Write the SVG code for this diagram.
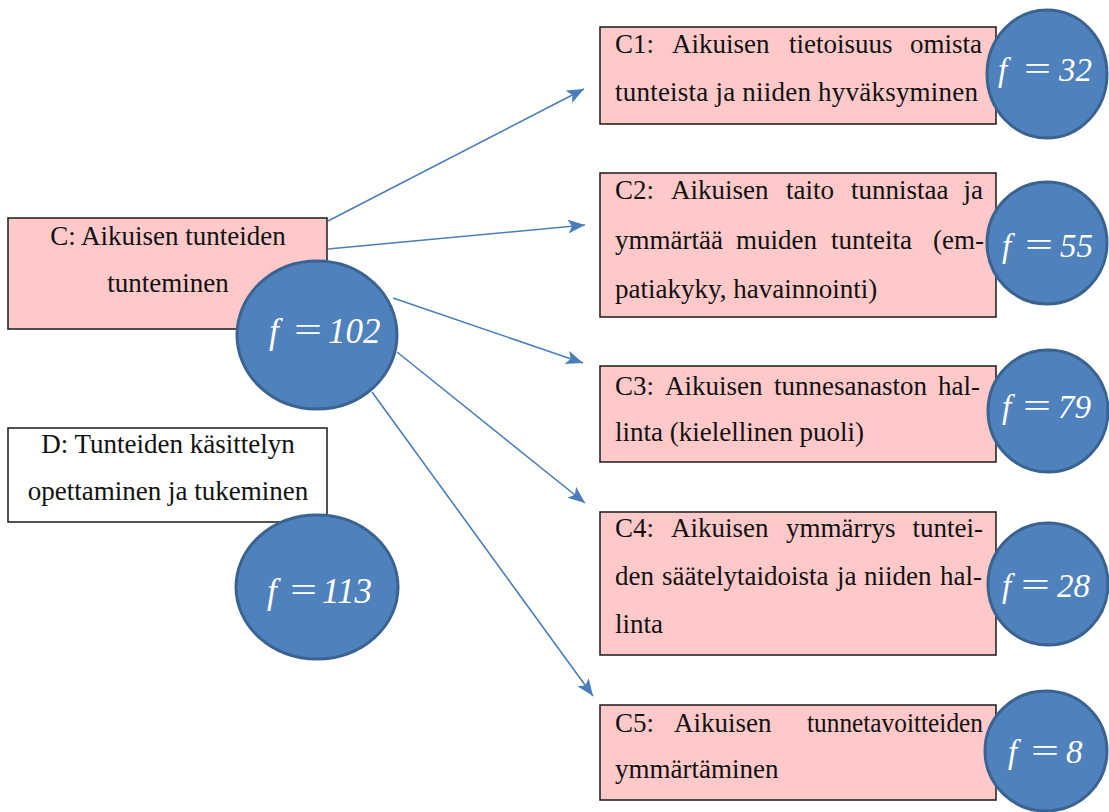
<svg xmlns="http://www.w3.org/2000/svg" width="1109" height="812" viewBox="0 0 1109 812">
<defs>
<style>
.box{fill:#ffc9c9;stroke:#1a1a1a;stroke-width:1.5}
.wbox{fill:#ffffff;stroke:#1a1a1a;stroke-width:1.5}
.t{font-family:"Liberation Serif","Times New Roman",serif;font-size:27px;fill:#111}
.tc{font-family:"Liberation Serif","Times New Roman",serif;font-size:27px;fill:#111;text-anchor:middle}
.e{text-anchor:end}
.circ{fill:#4f81bd;stroke:#3a6391;stroke-width:3}
.f{font-family:"Liberation Serif","Times New Roman",serif;font-style:italic;fill:#ffffff}
.eq{font-family:"Liberation Serif","Times New Roman",serif;fill:#ffffff}
.conn{stroke:#4a7ebb;stroke-width:1.6;fill:none;marker-end:url(#ah)}
</style>
<marker id="ah" markerUnits="userSpaceOnUse" markerWidth="20" markerHeight="16" refX="17" refY="7" orient="auto">
<path d="M0,0 L17,7 L0,14 L4,7 Z" fill="#4a7ebb"/>
</marker>
</defs>
<rect width="1109" height="812" fill="#ffffff"/>

<g id="connectors">
<line class="conn" x1="328" y1="221" x2="584" y2="89"/>
<line class="conn" x1="328" y1="249" x2="585" y2="225"/>
<line class="conn" x1="393" y1="298" x2="583" y2="363"/>
<line class="conn" x1="397" y1="352" x2="585" y2="503"/>
<line class="conn" x1="372" y1="392" x2="593" y2="696"/>
</g>

<g id="nodeC">
<rect class="box" x="8" y="218" width="319" height="111"/>
<text class="tc" x="168" y="245">C: Aikuisen tunteiden</text>
<text class="tc" x="168" y="292">tunteminen</text>
<ellipse class="circ" cx="317" cy="335" rx="80" ry="74"/>
<text class="f" x="269" y="343" font-size="35">f</text>
<text class="eq" x="294" y="342" font-size="35" textLength="28" lengthAdjust="spacingAndGlyphs">=</text>
<text class="f" x="328" y="343" font-size="35">102</text>
</g>

<g id="nodeD">
<rect class="wbox" x="8" y="428" width="319" height="94"/>
<text class="tc" x="168" y="453">D: Tunteiden käsittelyn</text>
<text class="tc" x="168" y="500">opettaminen ja tukeminen</text>
<ellipse class="circ" cx="317" cy="587" rx="81" ry="72"/>
<text class="f" x="267" y="603" font-size="35">f</text>
<text class="eq" x="290" y="602" font-size="35" textLength="27" lengthAdjust="spacingAndGlyphs">=</text>
<text class="f" x="322" y="603" font-size="35">113</text>
</g>

<g id="nodeC1">
<rect class="box" x="600" y="27" width="396" height="97"/>
<text class="t" x="615" y="53">C1:</text>
<text class="t" x="672" y="53">Aikuisen</text>
<text class="t" x="789" y="53">tietoisuus</text>
<text class="t e" x="982" y="53">omista</text>
<text class="t" x="615" y="101" textLength="363" lengthAdjust="spacing">tunteista ja niiden hyväksyminen</text>
<ellipse class="circ" cx="1047" cy="74" rx="60" ry="64"/>
<text class="f" x="998" y="81" font-size="33">f</text>
<text class="eq" x="1024" y="80" font-size="33" textLength="27" lengthAdjust="spacingAndGlyphs">=</text>
<text class="f" x="1059" y="81" font-size="33">32</text>
</g>

<g id="nodeC2">
<rect class="box" x="600" y="173" width="396" height="144"/>
<text class="t" x="615" y="199">C2:</text>
<text class="t" x="671" y="199">Aikuisen</text>
<text class="t" x="786" y="199">taito</text>
<text class="t" x="851" y="199">tunnistaa</text>
<text class="t e" x="983" y="199">ja</text>
<text class="t" x="615" y="249">ymmärtää</text>
<text class="t" x="736" y="249">muiden</text>
<text class="t" x="831" y="249">tunteita</text>
<text class="t e" x="984" y="249">(em-</text>
<text class="t" x="615" y="298">patiakyky, havainnointi)</text>
<ellipse class="circ" cx="1047" cy="243" rx="60" ry="61"/>
<text class="f" x="1002" y="257" font-size="33">f</text>
<text class="eq" x="1025" y="256" font-size="33" textLength="28" lengthAdjust="spacingAndGlyphs">=</text>
<text class="f" x="1060" y="257" font-size="33">55</text>
</g>

<g id="nodeC3">
<rect class="box" x="600" y="366" width="396" height="96"/>
<text class="t" x="615" y="395">C3:</text>
<text class="t" x="665" y="395">Aikuisen</text>
<text class="t" x="774" y="395">tunnesanaston</text>
<text class="t e" x="980" y="395">hal-</text>
<text class="t" x="615" y="441">linta (kielellinen puoli)</text>
<ellipse class="circ" cx="1048" cy="411" rx="60" ry="61"/>
<text class="f" x="1002" y="418" font-size="33">f</text>
<text class="eq" x="1023" y="417" font-size="33" textLength="28" lengthAdjust="spacingAndGlyphs">=</text>
<text class="f" x="1058" y="418" font-size="33">79</text>
</g>

<g id="nodeC4">
<rect class="box" x="600" y="512" width="396" height="143"/>
<text class="t" x="615" y="537">C4:</text>
<text class="t" x="671" y="537">Aikuisen</text>
<text class="t" x="786" y="537">ymmärrys</text>
<text class="t e" x="983" y="537">tuntei-</text>
<text class="t" x="615" y="585">den</text>
<text class="t" x="662" y="585">säätelytaidoista</text>
<text class="t" x="837" y="585">ja</text>
<text class="t" x="864" y="585">niiden</text>
<text class="t e" x="982" y="585">hal-</text>
<text class="t" x="615" y="633">linta</text>
<ellipse class="circ" cx="1048" cy="584" rx="60" ry="61"/>
<text class="f" x="1002" y="597" font-size="33">f</text>
<text class="eq" x="1021" y="596" font-size="33" textLength="29" lengthAdjust="spacingAndGlyphs">=</text>
<text class="f" x="1057" y="597" font-size="33">28</text>
</g>

<g id="nodeC5">
<rect class="box" x="600" y="705" width="396" height="95"/>
<text class="t" x="615" y="732">C5:</text>
<text class="t" x="674" y="732">Aikuisen</text>
<text class="t e" x="983" y="732" textLength="176" lengthAdjust="spacingAndGlyphs">tunnetavoitteiden</text>
<text class="t" x="615" y="778">ymmärtäminen</text>
<ellipse class="circ" cx="1046" cy="751" rx="61" ry="60"/>
<text class="f" x="1008" y="763" font-size="33">f</text>
<text class="eq" x="1031" y="762" font-size="33" textLength="28" lengthAdjust="spacingAndGlyphs">=</text>
<text class="f" x="1066" y="763" font-size="33">8</text>
</g>
</svg>
